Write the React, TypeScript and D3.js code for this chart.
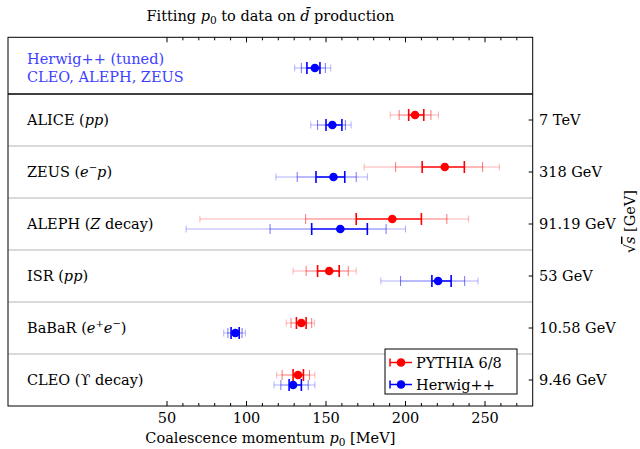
import React from 'react';
import * as d3 from 'd3';

// rows, top to bottom
const experiments = ['ALICE', 'ZEUS', 'ALEPH', 'ISR', 'BaBaR', 'CLEO'];
const energies = ['7 TeV', '318 GeV', '91.19 GeV', '53 GeV', '10.58 GeV', '9.46 GeV'];

// PYTHIA 6/8 fits: centre, inner / middle / outer error ranges (MeV)
const pythiaCenter = [206, 224.7, 191.7, 152, 134.5, 132.4];
const pythiaInner = [[202, 211.5], [210.5, 237], [169, 210], [144.7, 158.3], [131.4, 137.5], [129.3, 135.8]];
const pythiaMid = [[196, 216], [193.8, 248.5], [137.2, 226], [137.5, 164], [128, 141], [122.4, 139.6]];
const pythiaOuter = [[190.4, 220.7], [174, 259], [70.7, 239.7], [129.3, 169], [125, 142.7], [119, 143]];

// Herwig++ fits
const herwigCenter = [154, 154.7, 159, 220.5, 93, 129.3];
const herwigInner = [[150, 160], [143.7, 161.8], [141, 176], [216.6, 228.7], [90.3, 95.4], [126.8, 134.5]];
const herwigMid = [[144.7, 162.2], [131.9, 169], [114.8, 187.8], [196.9, 237.2], [88.3, 97.2], [121.6, 138.8]];
const herwigOuter = [[140.4, 165.8], [118.5, 176], [62, 200], [184.5, 245.6], [85.7, 99.3], [117.3, 143]];

// Herwig++ tuned to CLEO, ALEPH, ZEUS
const tunedCenter = 143;
const tunedInner = [138, 146.2];
const tunedMid = [134.5, 149.6];
const tunedOuter = [130.3, 153];

const xTicks = [50, 100, 150, 200, 250];
const xMinorTicks = d3.range(50, 271, 10);

const RED = '#ff0000';
const BLUE = '#0000ff';
const FONT = "'DejaVu Serif', serif";
const FS = 14.5;

function ErrorPoint({ x, y, c, inner, mid, outer, color }) {
  const seg = (a, b, op, w) => (
    <line x1={x(a)} x2={x(b)} y1={y} y2={y} stroke={color} strokeOpacity={op} strokeWidth={w} />
  );
  const cap = (v, h, op, w) => (
    <line x1={x(v)} x2={x(v)} y1={y - h / 2} y2={y + h / 2} stroke={color} strokeOpacity={op} strokeWidth={w} />
  );
  return (
    <g>
      {seg(outer[0], mid[0], 0.3, 1)}
      {seg(mid[1], outer[1], 0.3, 1)}
      {seg(mid[0], inner[0], 0.55, 1)}
      {seg(inner[1], mid[1], 0.55, 1)}
      {seg(inner[0], inner[1], 1, 1.6)}
      {cap(outer[0], 7, 0.3, 1)}
      {cap(outer[1], 7, 0.3, 1)}
      {cap(mid[0], 10, 0.55, 1)}
      {cap(mid[1], 10, 0.55, 1)}
      {cap(inner[0], 12, 1, 1.6)}
      {cap(inner[1], 12, 1, 1.6)}
      <circle cx={x(c)} cy={y} r={4.3} fill={color} />
    </g>
  );
}

function RowLabel({ i }) {
  const it = { fontStyle: 'italic' };
  switch (i) {
    case 0: return <>ALICE (<tspan style={it}>pp</tspan>)</>;
    case 1: return <>ZEUS (<tspan style={it}>e</tspan><tspan dy={-6} fontSize={10}>−</tspan><tspan dy={6} style={it}>p</tspan>)</>;
    case 2: return <>ALEPH (<tspan style={it}>Z</tspan> decay)</>;
    case 3: return <>ISR (<tspan style={it}>pp</tspan>)</>;
    case 4: return <>BaBaR (<tspan style={it}>e</tspan><tspan dy={-6} fontSize={10}>+</tspan><tspan dy={6} style={it}>e</tspan><tspan dy={-6} fontSize={10}>−</tspan><tspan dy={6}>)</tspan></>;
    default: return <>CLEO (ϒ decay)</>;
  }
}

export default function App() {
  const left = 8, right = 532.7, top = 37.3, headerBottom = 94, bottom = 406;
  const x = d3.scaleLinear().domain([-50, 280]).range([left, right]);
  const y = d3.scaleBand().domain(experiments).range([headerBottom, bottom]);
  const off = 5;

  return (
    <svg width={640} height={449} style={{ position: 'absolute', left: 0, top: 0, fontFamily: FONT }}>
      <rect width={640} height={449} fill="#fff" />
      {/* title */}
      <text x={(left + right) / 2} y={21} textAnchor="middle" fontSize={FS}>
        Fitting <tspan fontStyle="italic">p</tspan><tspan dy={3} fontSize={10.5}>0</tspan><tspan dy={-3}> to data on </tspan>
        <tspan fontStyle="italic">d̄</tspan> production
      </text>

      {/* row separators */}
      {experiments.slice(1).map(e => (
        <line key={e} x1={left} x2={right} y1={y(e)} y2={y(e)} stroke="#b4b4b4" strokeWidth={1.2} />
      ))}

      {/* header panel */}
      <text x={27} y={64} fontSize={FS} fill="#4040ff">Herwig++ (tuned)</text>
      <text x={27} y={82} fontSize={FS} fill="#4040ff">CLEO, ALEPH, ZEUS</text>
      <ErrorPoint x={x} y={68} c={tunedCenter} inner={tunedInner} mid={tunedMid} outer={tunedOuter} color={BLUE} />

      {/* data rows */}
      {experiments.map((e, i) => {
        const cy = y(e) + y.bandwidth() / 2;
        return (
          <g key={e}>
            <text x={27} y={cy + 5} fontSize={FS}><RowLabel i={i} /></text>
            <ErrorPoint x={x} y={cy - off} c={pythiaCenter[i]} inner={pythiaInner[i]} mid={pythiaMid[i]} outer={pythiaOuter[i]} color={RED} />
            <ErrorPoint x={x} y={cy + off} c={herwigCenter[i]} inner={herwigInner[i]} mid={herwigMid[i]} outer={herwigOuter[i]} color={BLUE} />
            <line x1={right - 4} x2={right} y1={cy} y2={cy} stroke="#000" />
            <text x={539} y={cy + 5} fontSize={FS}>{energies[i]}</text>
          </g>
        );
      })}

      {/* x ticks top and bottom */}
      {xMinorTicks.map(t => {
        const len = xTicks.includes(t) ? 5 : 3;
        return (
          <g key={t}>
            <line x1={x(t)} x2={x(t)} y1={top} y2={top + len} stroke="#000" />
            <line x1={x(t)} x2={x(t)} y1={bottom} y2={bottom - len} stroke="#000" />
          </g>
        );
      })}
      {xTicks.map(t => (
        <text key={t} x={x(t)} y={423} textAnchor="middle" fontSize={FS}>{t}</text>
      ))}

      {/* frame */}
      <rect x={left} y={top} width={right - left} height={bottom - top} fill="none" stroke="#000" strokeWidth={1} />
      <line x1={left} x2={right} y1={headerBottom} y2={headerBottom} stroke="#000" strokeWidth={1.5} />

      {/* axis titles */}
      <text x={(left + right) / 2} y={443} textAnchor="middle" fontSize={FS}>
        Coalescence momentum <tspan fontStyle="italic">p</tspan><tspan dy={3} fontSize={10.5}>0</tspan><tspan dy={-3}> [MeV]</tspan>
      </text>
      <text transform={`translate(635,${(top + bottom) / 2}) rotate(-90)`} textAnchor="middle" fontSize={FS}>
        √<tspan fontStyle="italic" textDecoration="overline">s</tspan> [GeV]
      </text>

      {/* legend */}
      <g>
        <rect x={385} y={349} width={132} height={45} fill="#fff" stroke="#000" />
        {[['PYTHIA 6/8', RED, 362.5], ['Herwig++', BLUE, 384.5]].map(([label, col, ly]) => (
          <g key={label as string}>
            <line x1={390} x2={412} y1={ly as number} y2={ly as number} stroke={col as string} strokeWidth={1.5} />
            <line x1={390} x2={390} y1={(ly as number) - 4} y2={(ly as number) + 4} stroke={col as string} strokeWidth={1.5} />
            <circle cx={401} cy={ly as number} r={4.3} fill={col as string} />
            <text x={416} y={(ly as number) + 5} fontSize={FS}>{label}</text>
          </g>
        ))}
      </g>
    </svg>
  );
}
